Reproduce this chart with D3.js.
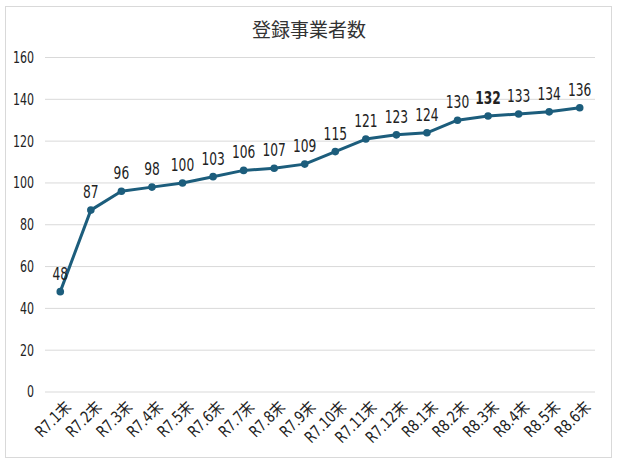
<!DOCTYPE html>
<html>
<head>
<meta charset="utf-8">
<script src="https://cdn.jsdelivr.net/npm/d3@7"></script>
<style>
  body { margin: 0; background: #fff; }
  text { font-family: "DejaVu Sans Condensed", "Noto Sans CJK JP", sans-serif; font-stretch: condensed; }
</style>
</head>
<body>
<div id="chart"></div>
<script>
var months = ["R7.1末","R7.2末","R7.3末","R7.4末","R7.5末","R7.6末","R7.7末","R7.8末","R7.9末",
              "R7.10末","R7.11末","R7.12末","R8.1末","R8.2末","R8.3末","R8.4末","R8.5末","R8.6末"];
var counts = [48, 87, 96, 98, 100, 103, 106, 107, 109, 115, 121, 123, 124, 130, 132, 133, 134, 136];
var yTicks = [0, 20, 40, 60, 80, 100, 120, 140, 160];

var width = 618;
var height = 465;

var svg = d3.select("#chart")
  .append("svg")
  .attr("width", width)
  .attr("height", height);

// outer frame
svg.append("rect")
  .attr("x", 5.5).attr("y", 6.5)
  .attr("width", 606).attr("height", 451)
  .attr("fill", "#fff")
  .attr("stroke", "#d9d9d9");

svg.append("text")
  .attr("x", 309).attr("y", 37)
  .attr("text-anchor", "middle")
  .attr("font-size", 19)
  .style("font-family", "'Noto Sans CJK JP', sans-serif")
  .attr("fill", "#333")
  .text("登録事業者数");

var x = d3.scaleBand().domain(months).range([45, 595]);
var y = d3.scaleLinear().domain([0, 160]).range([392, 57.5]);

function cx(m){ return x(m) + x.bandwidth() / 2; }

// gridlines
svg.append("g")
  .selectAll("line")
  .data(yTicks)
  .enter().append("line")
  .attr("x1", 45).attr("x2", 595)
  .attr("y1", function(d){ return y(d); })
  .attr("y2", function(d){ return y(d); })
  .attr("stroke", "#d9d9d9")
  .attr("stroke-width", 1);

// y axis labels
svg.append("g")
  .selectAll("text")
  .data(yTicks)
  .enter().append("text")
  .attr("transform", function(d){ return "translate(34," + y(d) + ") scale(0.82,1)"; })
  .attr("dy", "0.36em")
  .attr("text-anchor", "end")
  .attr("font-size", 15)
  .attr("fill", "#222")
  .text(function(d){ return d; });

// x axis labels
svg.append("g")
  .selectAll("text")
  .data(months)
  .enter().append("text")
  .attr("transform", function(d){
    return "translate(" + (cx(d) + 8) + ",404) rotate(-45) scale(0.88,1)";
  })
  .attr("text-anchor", "end")
  .attr("dy", "0.35em")
  .attr("font-size", 16)
  .attr("fill", "#222")
  .text(function(d){ return d; });

var pts = months.map(function(m, i){ return { m: m, v: counts[i] }; });

var line = d3.line()
  .x(function(d){ return cx(d.m); })
  .y(function(d){ return y(d.v); });

svg.append("path")
  .datum(pts)
  .attr("d", line)
  .attr("fill", "none")
  .attr("stroke", "#1c5d7c")
  .attr("stroke-width", 3)
  .attr("stroke-linejoin", "round");

svg.append("g")
  .selectAll("circle")
  .data(pts)
  .enter().append("circle")
  .attr("cx", function(d){ return cx(d.m); })
  .attr("cy", function(d){ return y(d.v); })
  .attr("r", 3.8)
  .attr("fill", "#1c5d7c");

svg.append("g")
  .selectAll("text")
  .data(pts)
  .enter().append("text")
  .attr("transform", function(d){ return "translate(" + cx(d.m) + "," + (y(d.v) - 12) + ") scale(0.8,1)"; })
  .attr("text-anchor", "middle")
  .attr("font-size", 17)
  .attr("font-weight", function(d){ return d.v == 132 ? "bold" : "normal"; })
  .attr("fill", "#222")
  .text(function(d){ return d.v; });
</script>
</body>
</html>
